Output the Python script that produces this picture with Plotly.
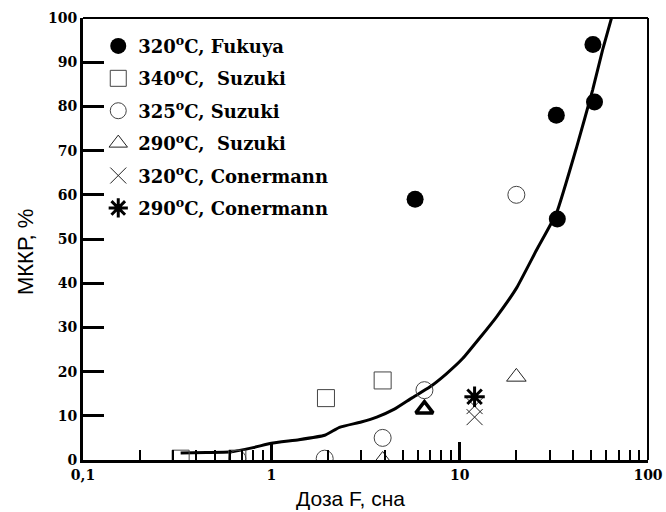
import plotly.graph_objects as go

# ---- data ----
fukuya_x = [5.8, 32.6, 51, 52, 33]
fukuya_y = [59, 78, 94, 81, 54.5]

suzuki340_x = [0.33, 0.66, 1.95, 3.9]
suzuki340_y = [0.3, 0.3, 14, 18]

suzuki325_x = [0.66, 1.92, 3.9, 6.5, 20]
suzuki325_y = [0.3, 0.3, 5, 15.8, 60]

suzuki290_x = [3.9, 20]
suzuki290_y = [0, 18.8]
suzuki290_bold_x = [6.5]
suzuki290_bold_y = [11.5]

conermann320_x = [12, 12]
conermann320_y = [12.2, 9.7]

conermann290_x = [12]
conermann290_y = [14.3]

curve_x = [0.33, 0.45, 0.6, 0.8, 1.0, 1.4, 1.92, 2.3, 3.0, 3.63, 4.5, 5.56, 6.93,
           8.5, 10.4, 13, 15.7, 20.1, 25.6, 32.7, 41.8, 50.8, 57.4, 64]
curve_y = [1.6, 1.7, 1.8, 2.8, 3.8, 4.6, 5.6, 7.4, 8.6, 9.7, 11.5, 14, 16.5,
           19.5, 23, 28, 32.4, 39, 47.5, 55.9, 70.8, 83.7, 92.8, 100]

x_tickvals = [0.1, 1, 10, 100]
x_ticktext = ["0,1", "1", "10", "100"]
y_tickvals = list(range(0, 101, 10))

SERIF = "DejaVu Serif"
SANS = "Liberation Sans, Arial"

fig = go.Figure()

fig.add_trace(go.Scatter(
    x=curve_x, y=curve_y, mode="lines", showlegend=False,
    line=dict(color="black", width=3, shape="spline", smoothing=0.4),
    hoverinfo="skip"))

def lg(i):
    return "g%d" % i

fig.add_trace(go.Scatter(
    x=fukuya_x, y=fukuya_y, mode="markers", name="<b>320<sup>o</sup>C, Fukuya</b>",
    legendgroup=lg(1),
    marker=dict(symbol="circle", size=17, color="black", line=dict(width=0))))

fig.add_trace(go.Scatter(
    x=suzuki340_x, y=suzuki340_y, mode="markers", name="<b>340<sup>o</sup>C,  Suzuki</b>",
    legendgroup=lg(2),
    marker=dict(symbol="square-open", size=17, color="#444", line=dict(width=1))))

fig.add_trace(go.Scatter(
    x=suzuki325_x, y=suzuki325_y, mode="markers", name="<b>325<sup>o</sup>C, Suzuki</b>",
    legendgroup=lg(3),
    marker=dict(symbol="circle-open", size=17, color="#444", line=dict(width=1))))

fig.add_trace(go.Scatter(
    x=suzuki290_x, y=suzuki290_y, mode="markers", name="<b>290<sup>o</sup>C,  Suzuki</b>",
    legendgroup=lg(4),
    marker=dict(symbol="triangle-up-open", size=17, color="#222", line=dict(width=1))))

fig.add_trace(go.Scatter(
    x=suzuki290_bold_x, y=suzuki290_bold_y, mode="markers", showlegend=False,
    legendgroup=lg(4),
    marker=dict(symbol="triangle-up-open", size=15, color="black", line=dict(width=3.5))))

fig.add_trace(go.Scatter(
    x=conermann320_x, y=conermann320_y, mode="markers", name="<b>320<sup>o</sup>C, Conermann</b>",
    legendgroup=lg(5),
    marker=dict(symbol="x-thin-open", size=16, color="#222", line=dict(width=1))))

fig.add_trace(go.Scatter(
    x=conermann290_x, y=conermann290_y, mode="markers", name="<b>290<sup>o</sup>C, Conermann</b>",
    legendgroup=lg(6),
    marker=dict(symbol="asterisk-open", size=17, color="black", line=dict(width=3))))

fig.update_layout(
    width=666, height=512,
    margin=dict(l=83, r=18, t=18, b=52, autoexpand=False),
    paper_bgcolor="white", plot_bgcolor="white",
    showlegend=True,
    legend=dict(
        x=0.027, y=0.978, xanchor="left", yanchor="top",
        bgcolor="rgba(0,0,0,0)", borderwidth=0,
        font=dict(family=SERIF, size=18, color="black"),
        tracegroupgap=6, itemsizing="trace",
    ),
    xaxis=dict(
        type="log", range=[-1, 2], automargin=False,
        tickvals=x_tickvals, ticktext=x_ticktext,
        ticks="inside", ticklen=18, tickwidth=3, tickcolor="black",
        minor=dict(ticks="inside", ticklen=10, tickwidth=2, tickcolor="black", dtick="D1", showgrid=False),
        showline=True, linewidth=3, linecolor="black",
        showgrid=False, zeroline=False,
        tickfont=dict(family=SERIF, size=14, color="black", weight="bold"),
    ),
    yaxis=dict(
        range=[0, 100], automargin=False,
        tickvals=y_tickvals,
        ticks="inside", ticklen=21, tickwidth=3, tickcolor="black",
        showline=True, linewidth=3, linecolor="black",
        showgrid=False, zeroline=False,
        tickfont=dict(family=SERIF, size=14, color="black", weight="bold"),
    ),
    shapes=[
        dict(type="line", xref="paper", yref="paper", x0=0, x1=1, y0=1, y1=1,
             line=dict(color="black", width=2)),
        dict(type="line", xref="paper", yref="paper", x0=1, x1=1, y0=0, y1=1,
             line=dict(color="black", width=2)),
    ],
    annotations=[
        dict(text="Доза F, сна", xref="paper", yref="paper", x=0.474, y=-0.087,
             xanchor="center", yanchor="middle", showarrow=False,
             font=dict(family=SANS, size=21, color="black")),
        dict(text="МККР, %", xref="paper", yref="paper", x=-0.103, y=0.47,
             xanchor="center", yanchor="middle", showarrow=False, textangle=-90,
             font=dict(family=SANS, size=22, color="black")),
    ],
)

fig.write_html("out.html")
